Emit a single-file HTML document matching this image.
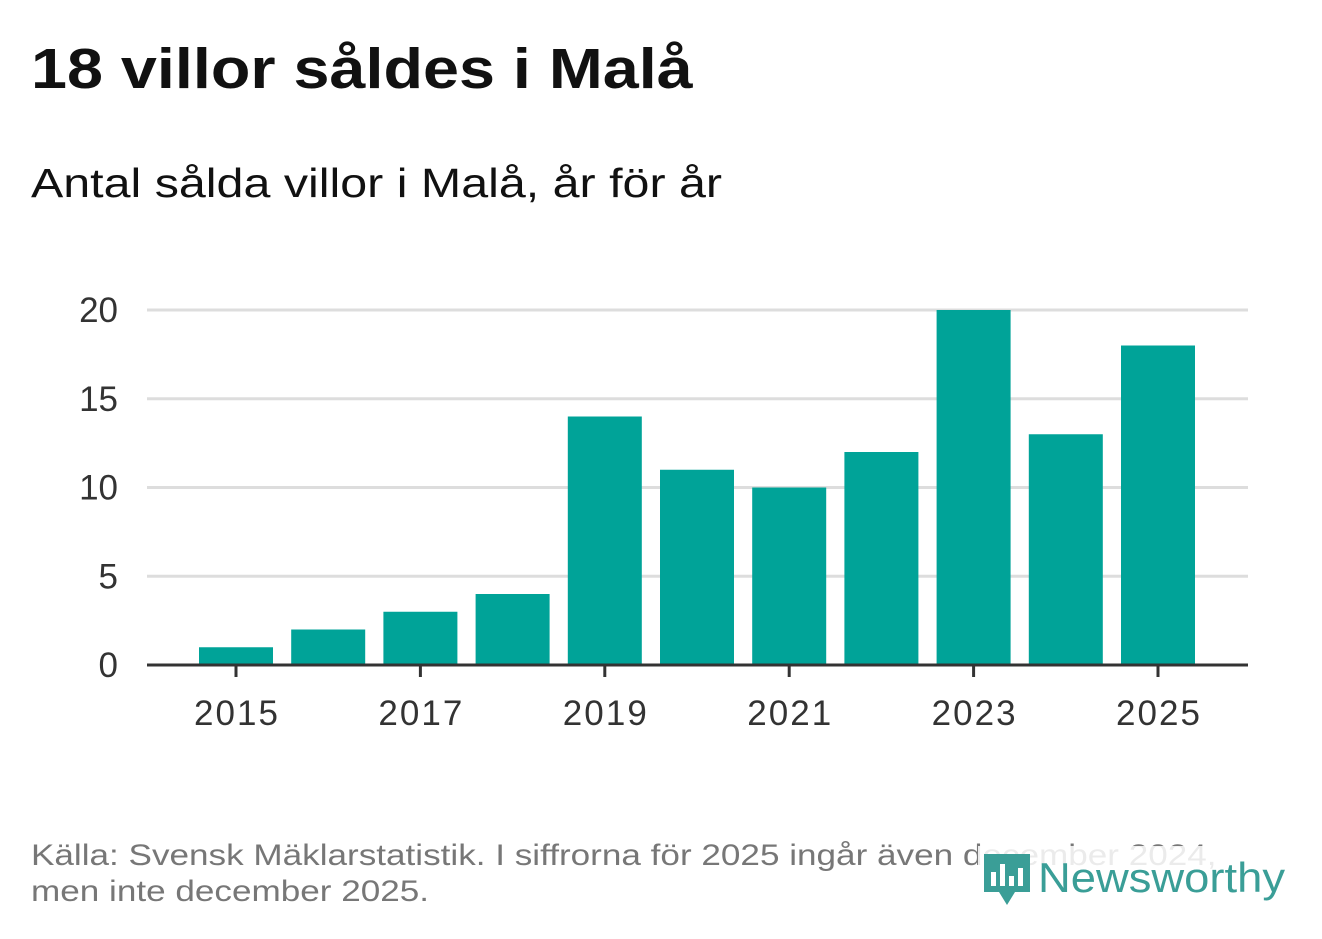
<!DOCTYPE html>
<html><head><meta charset="utf-8"><style>
body{margin:0;background:#fff;width:1322px;height:939px;overflow:hidden;font-family:"Liberation Sans","DejaVu Sans",sans-serif;position:relative}
.t{position:absolute;white-space:nowrap;transform-origin:0 0}
</style></head><body>
<div class="t" style="left:31px;top:36px;font-size:57px;font-weight:bold;color:#111;transform:scaleX(1.135)">18 villor såldes i Malå</div>
<div class="t" style="left:31px;top:160px;font-size:41px;color:#111;transform:scaleX(1.18)">Antal sålda villor i Malå, år för år</div>
<svg id="chart" width="1322" height="939" style="position:absolute;left:0;top:0"></svg>
<div class="t" style="left:31px;top:838px;font-size:30px;line-height:36px;color:#777;transform:scaleX(1.17)">Källa: Svensk Mäklarstatistik. I siffrorna för 2025 ingår även december 2024,<br>men inte december 2025.</div>
<div class="t" style="left:978px;top:846px;background:rgba(255,255,255,0.85);padding:0 2px">
<svg width="58" height="64" style="vertical-align:middle"><path d="M4 8h46v38H35l-8 13-8-13H4z" fill="#3a9e97"/><rect x="11" y="26" width="5" height="14" fill="#fff"/><rect x="20" y="18" width="5" height="22" fill="#fff"/><rect x="29" y="30" width="5" height="10" fill="#fff"/><rect x="38" y="22" width="5" height="18" fill="#fff"/></svg><span style="font-size:42px;color:#3a9e97;vertical-align:middle;display:inline-block;transform:scaleX(1.08);transform-origin:0 0">Newsworthy</span></div>
<script>
const years=[2015,2016,2017,2018,2019,2020,2021,2022,2023,2024,2025];
const values=[1,2,3,4,14,11,10,12,20,13,18];
const yTicks=[0,5,10,15,20];
const svg=document.getElementById('chart');
const NS='http://www.w3.org/2000/svg';
const x0=147,x1=1248,yb=665,yt=310,ymax=20;
const step=(1158-236)/10,first=236,bw=74;
const X=i=>first+i*step;
const Y=v=>yb-(v/ymax)*(yb-yt);
function mk(t,a){const e=document.createElementNS(NS,t);for(const k in a)e.setAttribute(k,a[k]);svg.appendChild(e);return e;}
yTicks.forEach(v=>{
 if(v>0){const g=mk('line',{x1:x0,x2:x1,y1:Y(v),y2:Y(v),stroke:'#ddd','stroke-width':3});
 
 }
 const t=mk('text',{x:118,y:Y(v)+12,'text-anchor':'end','font-size':35,fill:'#333','font-family':'Liberation Sans, sans-serif'});
 t.textContent=v;
 
 
});
values.forEach((v,i)=>{
 const r=mk('rect',{x:X(i)-bw/2,y:Y(v),width:bw,height:yb-Y(v),fill:'#00a398'});
 
 
});
const ax=mk('line',{x1:x0,x2:x1,y1:yb,y2:yb,stroke:'#333','stroke-width':3});


years.forEach((yr,i)=>{
 if(i%2)return;
 const tk=mk('line',{x1:X(i),x2:X(i),y1:yb,y2:yb+12,stroke:'#333','stroke-width':3});
 
 
 const t=mk('text',{x:X(i),y:725,'text-anchor':'middle','font-size':35,textLength:84,fill:'#333','font-family':'Liberation Sans, sans-serif'});
 t.textContent=yr;
 
 
});
</script>
</body></html>
